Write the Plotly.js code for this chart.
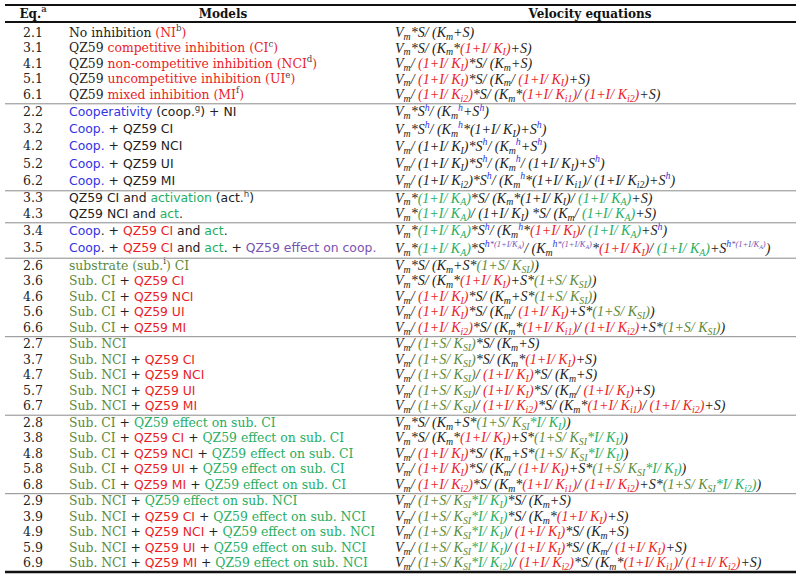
<!DOCTYPE html>
<html><head><meta charset="utf-8">
<script src="https://cdn.plot.ly/plotly-3.0.1.min.js"></script>
<style>html,body{margin:0;padding:0;background:#fff}</style>
</head><body><div id="chart" style="width:800px;height:579px"></div>
<script>
// colour helpers
const RED='#ea1d27', BLUE='#3333e8', GREEN='#1fae5f', OLIVE='#5c8a3a', PURPLE='#7b52b2', NOTE='#444';
const SANS="DejaVu Sans";
const c=(col,s)=>`<span style="color:${col}">${s}</span>`;
const R=s=>c(RED,s), B=s=>c(BLUE,s), G=s=>c(GREEN,s), O=s=>c(OLIVE,s), P=s=>c(PURPLE,s);
const sf=s=>`<span style="font-family:${SANS};font-size:12.4px">${s}</span>`;
const fn=s=>`<sup>${c(NOTE,s)}</sup>`;
// equation building blocks
const SL='/ ';
const Vm='V<sub>m</sub>', Km='K<sub>m</sub>', S='S', I='I';
const KI='K<sub>I</sub>', Ki1='K<sub>i1</sub>', Ki2='K<sub>i2</sub>', KSI='K<sub>SI</sub>', KA='K<sub>A</sub>';
const h=`<sup>${B('h')}</sup>`;
const Sh=S+h, Kmh=Km+h;
const hA=`<sup>${B('h')}<span style="color:${PURPLE};font-size:8.5px">*(1+I/K<sub>A</sub>)</span></sup>`;
const iKI=R(`(1+${I}${SL}${KI})`), iKi1=R(`(1+${I}${SL}${Ki1})`), iKi2=R(`(1+${I}${SL}${Ki2})`);
const aKA=G(`(1+${I}${SL}${KA})`);
const sSI=O(`(1+${S}${SL}${KSI})`);
const sSIx=k=>O(`(1+${S}${SL}${KSI}`)+G(`*${I}${SL}${k})`);

const eqNums=['2.1','3.1','4.1','5.1','6.1','2.2','3.2','4.2','5.2','6.2','3.3','4.3','3.4','3.5',
  '2.6','3.6','4.6','5.6','6.6','2.7','3.7','4.7','5.7','6.7','2.8','3.8','4.8','5.8','6.8',
  '2.9','3.9','4.9','5.9','6.9'];
const groups=[1,1,1,1,1,2,2,2,2,2,3,3,4,4,5,5,5,5,5,6,6,6,6,6,7,7,7,7,7,8,8,8,8,8];
const headers=['Eq.'+fn('a'),'Models','Velocity equations'];

const models=[
  'No inhibition '+R('(NI')+fn('b')+R(')'),
  'QZ59 '+R('competitive inhibition (CI')+fn('c')+R(')'),
  'QZ59 '+R('non-competitive inhibition (NCI')+fn('d')+R(')'),
  'QZ59 '+R('uncompetitive inhibition (UI')+fn('e')+R(')'),
  'QZ59 '+R('mixed inhibition (MI')+fn('f')+R(')'),
  sf(B('Cooperativity')+' (coop.'+fn('g')+') + NI'),
  sf(B('Coop.')+' + QZ59 CI'),
  sf(B('Coop.')+' + QZ59 NCI'),
  sf(B('Coop.')+' + QZ59 UI'),
  sf(B('Coop.')+' + QZ59 MI'),
  sf('QZ59 CI and '+G('activation')+' (act.'+fn('h')+')'),
  sf('QZ59 NCI and '+G('act')+'.'),
  sf(B('Coop')+'. + '+R('QZ59 CI')+' and '+G('act')+'.'),
  sf(B('Coop')+'. + '+R('QZ59 CI')+' and '+G('act')+'. + '+P('QZ59 effect on coop.')),
  O('substrate (sub.')+fn('i')+O(') CI'),
  O('Sub. CI')+' + '+sf(R('QZ59 CI')),
  O('Sub. CI')+' + '+sf(R('QZ59 NCI')),
  O('Sub. CI')+' + '+sf(R('QZ59 UI')),
  O('Sub. CI')+' + '+sf(R('QZ59 MI')),
  O('Sub. NCI'),
  O('Sub. NCI')+' + '+sf(R('QZ59 CI')),
  O('Sub. NCI')+' + '+sf(R('QZ59 NCI')),
  O('Sub. NCI')+' + '+sf(R('QZ59 UI')),
  O('Sub. NCI')+' + '+sf(R('QZ59 MI')),
  O('Sub. CI')+' + '+G('QZ59 effect on sub. CI'),
  O('Sub. CI')+' + '+sf(R('QZ59 CI'))+' + '+G('QZ59 effect on sub. CI'),
  O('Sub. CI')+' + '+sf(R('QZ59 NCI'))+' + '+G('QZ59 effect on sub. CI'),
  O('Sub. CI')+' + '+sf(R('QZ59 UI'))+' + '+G('QZ59 effect on sub. CI'),
  O('Sub. CI')+' + '+sf(R('QZ59 MI'))+' + '+G('QZ59 effect on sub. CI'),
  O('Sub. NCI')+' + '+G('QZ59 effect on sub. NCI'),
  O('Sub. NCI')+' + '+sf(R('QZ59 CI'))+' + '+G('QZ59 effect on sub. NCI'),
  O('Sub. NCI')+' + '+sf(R('QZ59 NCI'))+' + '+G('QZ59 effect on sub. NCI'),
  O('Sub. NCI')+' + '+sf(R('QZ59 UI'))+' + '+G('QZ59 effect on sub. NCI'),
  O('Sub. NCI')+' + '+sf(R('QZ59 MI'))+' + '+G('QZ59 effect on sub. NCI')
];

const equations=[
  `${Vm}*${S}${SL}(${Km}+${S})`,
  `${Vm}*${S}${SL}(${Km}*${iKI}+${S})`,
  `${Vm}${SL}${iKI}*${S}${SL}(${Km}+${S})`,
  `${Vm}${SL}${iKI}*${S}${SL}(${Km}${SL}${iKI}+${S})`,
  `${Vm}${SL}${iKi2}*${S}${SL}(${Km}*${iKi1}${SL}${iKi2}+${S})`,
  `${Vm}*${Sh}${SL}(${Kmh}+${Sh})`,
  `${Vm}*${Sh}${SL}(${Kmh}*(1+${I}${SL}${KI})+${Sh})`,
  `${Vm}${SL}(1+${I}${SL}${KI})*${Sh}${SL}(${Kmh}+${Sh})`,
  `${Vm}${SL}(1+${I}${SL}${KI})*${Sh}${SL}(${Kmh}${SL}(1+${I}${SL}${KI})+${Sh})`,
  `${Vm}${SL}(1+${I}${SL}${Ki2})*${Sh}${SL}(${Kmh}*(1+${I}${SL}${Ki1})${SL}(1+${I}${SL}${Ki2})+${Sh})`,
  `${Vm}*${aKA}*${S}${SL}(${Km}*(1+${I}${SL}${KI})${SL}${aKA}+${S})`,
  `${Vm}*${aKA}${SL}(1+${I}${SL}${KI}) *${S}${SL}(${Km}${SL}${aKA}+${S})`,
  `${Vm}*${aKA}*${Sh}${SL}(${Kmh}*${iKI}${SL}${aKA}+${Sh})`,
  `${Vm}*${aKA}*${S}${hA}${SL}(${Km}${hA}*${iKI}${SL}${aKA}+${S}${hA})`,
  `${Vm}*${S}${SL}(${Km}+${S}*${sSI})`,
  `${Vm}*${S}${SL}(${Km}*${iKI}+${S}*${sSI})`,
  `${Vm}${SL}${iKI}*${S}${SL}(${Km}+${S}*${sSI})`,
  `${Vm}${SL}${iKI}*${S}${SL}(${Km}${SL}${iKI}+${S}*${sSI})`,
  `${Vm}${SL}${iKi2}*${S}${SL}(${Km}*${iKi1}${SL}${iKi2}+${S}*${sSI})`,
  `${Vm}${SL}${sSI}*${S}${SL}(${Km}+${S})`,
  `${Vm}${SL}${sSI}*${S}${SL}(${Km}*${iKI}+${S})`,
  `${Vm}${SL}${sSI}${SL}${iKI}*${S}${SL}(${Km}+${S})`,
  `${Vm}${SL}${sSI}${SL}${iKI}*${S}${SL}(${Km}${SL}${iKI}+${S})`,
  `${Vm}${SL}${sSI}${SL}${iKi2}*${S}${SL}(${Km}*${iKi1}${SL}${iKi2}+${S})`,
  `${Vm}*${S}${SL}(${Km}+${S}*${sSIx(KI)})`,
  `${Vm}*${S}${SL}(${Km}*${iKI}+${S}*${sSIx(KI)})`,
  `${Vm}${SL}${iKI}*${S}${SL}(${Km}+${S}*${sSIx(KI)})`,
  `${Vm}${SL}${iKI}*${S}${SL}(${Km}${SL}${iKI}+${S}*${sSIx(KI)})`,
  `${Vm}${SL}${iKi2}*${S}${SL}(${Km}*${iKi1}${SL}${iKi2}+${S}*${sSIx(Ki2)})`,
  `${Vm}${SL}${sSIx(KI)}*${S}${SL}(${Km}+${S})`,
  `${Vm}${SL}${sSIx(KI)}*${S}${SL}(${Km}*${iKI}+${S})`,
  `${Vm}${SL}${sSIx(KI)}${SL}${iKI}*${S}${SL}(${Km}+${S})`,
  `${Vm}${SL}${sSIx(KI)}${SL}${iKI}*${S}${SL}(${Km}${SL}${iKI}+${S})`,
  `${Vm}${SL}${sSIx(Ki2)}${SL}${iKi2}*${S}${SL}(${Km}*${iKi1}${SL}${iKi2}+${S})`
];

// ---------- geometry (pixel-like axis units) ----------
const X_EQ=33, X_MOD=69, X_VEL=395, HEAD_X=[33,223,590];
const X0=5, X1=796;
const TOP_LINE=5, HEAD_Y=14.5, HEAD_LINE=22, FIRST_TOP=25.8;
const H_NORMAL=15.5, H_TALL=17.2, GAP=1;
const yc=[], seps=[];
let yy=FIRST_TOP;
for(let i=0;i<eqNums.length;i++){
  if(i>0 && groups[i]!==groups[i-1]){ seps.push(yy+GAP/2); yy+=GAP; }
  const hh=/<sup>/.test(equations[i])?H_TALL:H_NORMAL;
  yc.push(yy+hh/2); yy+=hh;
}
const BOTTOM_LINE=Math.min(yy+0.3,576.5);

const SERIF="DejaVu Serif";
const EQFONT="Liberation Serif";
const base={type:'scatter',mode:'text',hoverinfo:'skip',showlegend:false,cliponaxis:false};
const traces=[
  Object.assign({},base,{x:eqNums.map(()=>X_EQ),y:yc,text:eqNums,textposition:'middle center',
    textfont:{family:SERIF,size:12.5,color:'#222'}}),
  Object.assign({},base,{x:models.map(()=>X_MOD),y:yc,text:models,textposition:'middle right',
    textfont:{family:SERIF,size:12.4,color:'#222'}}),
  Object.assign({},base,{x:equations.map(()=>X_VEL),y:yc,text:equations,textposition:'middle right',
    textfont:{family:EQFONT,size:14,color:'#222',style:'italic'}}),
  Object.assign({},base,{x:HEAD_X,y:headers.map(()=>HEAD_Y),text:headers,textposition:'middle center',
    textfont:{family:SERIF,size:12,color:'#111',weight:'bold'}})
];

const line=(y,w,col)=>({type:'line',xref:'x',yref:'y',x0:X0,x1:X1,y0:y,y1:y,line:{color:col,width:w}});
const shapes=[line(TOP_LINE,2,'#111'),line(HEAD_LINE,2,'#111'),line(BOTTOM_LINE,2.5,'#111')]
  .concat(seps.map(s=>line(s,1,'#8a8a8a')));

const layout={width:800,height:579,margin:{l:0,r:0,t:0,b:0},paper_bgcolor:'#fff',plot_bgcolor:'#fff',
  xaxis:{range:[0,800],visible:false,fixedrange:true},
  yaxis:{range:[579,0],visible:false,fixedrange:true},
  shapes:shapes};
Plotly.newPlot('chart',traces,layout,{staticPlot:true,displayModeBar:false});
</script></body></html>
